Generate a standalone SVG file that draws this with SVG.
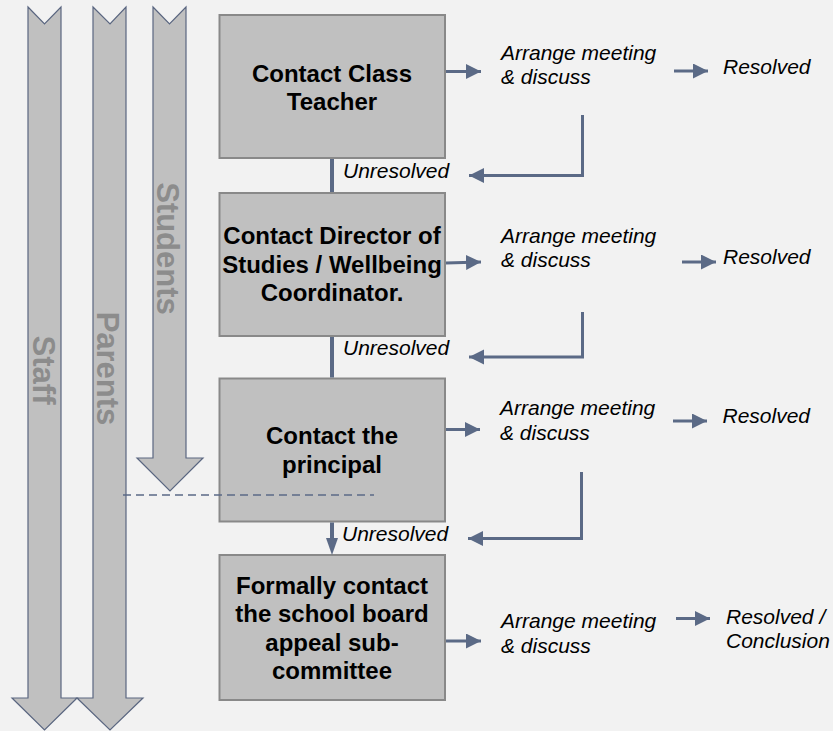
<svg xmlns="http://www.w3.org/2000/svg" width="833" height="731" viewBox="0 0 833 731">
<defs>
<style>
.bg{fill:#f2f2f2}
.big{fill:#c0c0c0;stroke:#5a6680;stroke-width:1.2}
.lane{font-family:"Liberation Sans",Arial,sans-serif;font-weight:bold;font-size:31px;fill:#8c8c8c;text-anchor:middle}
.box{fill:#c0c0c0;stroke:#898989;stroke-width:2}
.bt{font-family:"Liberation Sans",Arial,sans-serif;font-weight:bold;font-size:24px;fill:#000;text-anchor:middle}
.it{font-family:"Liberation Sans",Arial,sans-serif;font-style:italic;font-size:21px;fill:#000}
.ln{fill:none;stroke:#5b6a86;stroke-width:3}
.vl{fill:none;stroke:#5b6a86;stroke-width:4}
.dash{fill:none;stroke:#5b6a86;stroke-width:1.5;stroke-dasharray:8 5}
</style>
<marker id="ah" markerUnits="userSpaceOnUse" markerWidth="16" markerHeight="16" refX="15" refY="7.5" orient="auto">
<path d="M0,0 L15,7.5 L0,15 Z" fill="#5b6a86"/>
</marker>
</defs>
<rect class="bg" x="0" y="0" width="833" height="731"/>

<g id="lane-staff">
<polygon class="big" points="28,7 44.5,24 61,7 61,698 77,698 44.5,730 12,698 28,698"/>
<text class="lane" transform="translate(33,370) rotate(90)">Staff</text>
</g>
<g id="lane-parents">
<polygon class="big" points="93,7 110,24 126,7 126,698 143,698 110,730 77,698 93,698"/>
<text class="lane" transform="translate(97,368.5) rotate(90)">Parents</text>
</g>
<g id="lane-students">
<polygon class="big" points="153,7 169.5,24 186,7 186,458 203,458 170,491 137,458 153,458"/>
<text class="lane" transform="translate(157,248.5) rotate(90)">Students</text>
</g>

<g id="box1">
<rect class="box" x="219.5" y="15" width="225.5" height="143"/>
<text class="bt" x="332" y="82">Contact Class</text>
<text class="bt" x="332" y="110">Teacher</text>
</g>
<g id="box2">
<rect class="box" x="219.5" y="193" width="225.5" height="143"/>
<text class="bt" x="332" y="244">Contact Director of</text>
<text class="bt" x="332" y="272.5">Studies / Wellbeing</text>
<text class="bt" x="332" y="300.5">Coordinator.</text>
</g>
<g id="box3">
<rect class="box" x="219.5" y="378.5" width="225.5" height="143"/>
<text class="bt" x="332" y="444">Contact the</text>
<text class="bt" x="332" y="472.5">principal</text>
</g>
<g id="box4">
<rect class="box" x="219.5" y="555" width="225.5" height="145"/>
<text class="bt" x="332" y="594">Formally contact</text>
<text class="bt" x="332" y="622">the school board</text>
<text class="bt" x="332" y="650.5">appeal sub-</text>
<text class="bt" x="332" y="679">committee</text>
</g>

<g id="connectors">
<line class="vl" x1="332" y1="159" x2="332" y2="192"/>
<line class="vl" x1="332" y1="337" x2="332" y2="377.5"/>
<line class="vl" x1="332" y1="522.5" x2="332" y2="540"/>
<polygon points="326,538 338,538 332,555" fill="#5b6a86"/>
<line class="dash" x1="123" y1="495" x2="374" y2="495"/>

<line class="ln" x1="446" y1="71.5" x2="481" y2="71.5" marker-end="url(#ah)"/>
<line class="ln" x1="674" y1="71" x2="708" y2="71" marker-end="url(#ah)"/>
<polyline class="ln" points="582.5,115 582.5,175.5 469,175.5" marker-end="url(#ah)"/>

<line class="ln" x1="446" y1="263" x2="481" y2="262" marker-end="url(#ah)"/>
<line class="ln" x1="682" y1="262" x2="716" y2="262" marker-end="url(#ah)"/>
<polyline class="ln" points="582.5,312 582.5,357 469,357" marker-end="url(#ah)"/>

<line class="ln" x1="446" y1="429.5" x2="480" y2="429.5" marker-end="url(#ah)"/>
<line class="ln" x1="673" y1="421" x2="707" y2="421" marker-end="url(#ah)"/>
<polyline class="ln" points="581.5,472 581.5,538.5 468,538.5" marker-end="url(#ah)"/>

<line class="ln" x1="446" y1="641" x2="481" y2="641" marker-end="url(#ah)"/>
<line class="ln" x1="676" y1="618.5" x2="710" y2="618.5" marker-end="url(#ah)"/>
</g>

<g id="labels">
<text class="it" x="343" y="178">Unresolved</text>
<text class="it" x="343" y="355">Unresolved</text>
<text class="it" x="342" y="541">Unresolved</text>

<text class="it" x="501" y="60">Arrange meeting</text>
<text class="it" x="501" y="84">&amp; discuss</text>
<text class="it" x="723" y="74">Resolved</text>

<text class="it" x="501" y="243">Arrange meeting</text>
<text class="it" x="501" y="267">&amp; discuss</text>
<text class="it" x="723" y="264">Resolved</text>

<text class="it" x="500" y="415">Arrange meeting</text>
<text class="it" x="500" y="440">&amp; discuss</text>
<text class="it" x="722.5" y="423">Resolved</text>

<text class="it" x="501" y="628">Arrange meeting</text>
<text class="it" x="501" y="653">&amp; discuss</text>
<text class="it" x="726" y="624">Resolved /</text>
<text class="it" x="726" y="648">Conclusion</text>
</g>
</svg>
